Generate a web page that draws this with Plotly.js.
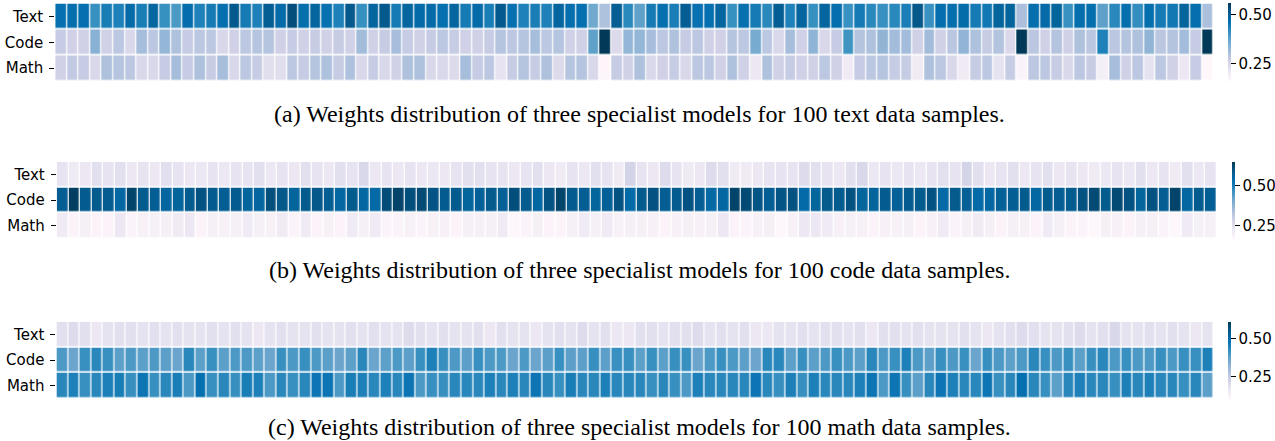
<!DOCTYPE html>
<html>
<head>
<meta charset="utf-8">
<script src="https://cdn.plot.ly/plotly-3.0.1.min.js"></script>
<style>html,body{margin:0;padding:0;background:#fff;}#chart{width:1275px;height:441px;}</style>
</head>
<body>
<div id="chart"></div>
<script>
const rowLabels = ["Text", "Code", "Math"];
const sampleIdx = Array.from({length: 100}, (_, i) => i);

const textA = [0.457,0.46,0.457,0.407,0.437,0.43,0.469,0.437,0.48,0.407,
0.39,0.463,0.43,0.44,0.457,0.507,0.44,0.43,0.497,0.469,
0.525,0.46,0.481,0.455,0.43,0.507,0.407,0.481,0.507,0.44,
0.481,0.469,0.469,0.457,0.481,0.44,0.469,0.437,0.507,0.457,
0.43,0.437,0.43,0.481,0.46,0.457,0.36,0.297,0.497,0.42,
0.373,0.44,0.457,0.437,0.497,0.455,0.457,0.481,0.407,0.457,
0.44,0.42,0.497,0.43,0.481,0.407,0.481,0.46,0.405,0.44,
0.42,0.405,0.42,0.435,0.51,0.405,0.46,0.46,0.465,0.44,
0.445,0.485,0.485,0.30,0.46,0.47,0.485,0.405,0.46,0.46,
0.375,0.42,0.46,0.41,0.46,0.44,0.445,0.485,0.46,0.30];
const codeA = [0.269,0.257,0.257,0.337,0.257,0.281,0.241,0.307,0.281,0.325,
0.297,0.269,0.281,0.281,0.241,0.257,0.281,0.289,0.289,0.257,
0.269,0.257,0.269,0.257,0.269,0.257,0.31,0.257,0.269,0.307,
0.269,0.257,0.269,0.281,0.269,0.257,0.257,0.269,0.289,0.281,
0.289,0.307,0.281,0.289,0.257,0.257,0.373,0.557,0.236,0.325,
0.325,0.307,0.281,0.297,0.269,0.281,0.257,0.257,0.289,0.281,
0.353,0.281,0.241,0.307,0.257,0.33,0.241,0.27,0.40,0.29,
0.298,0.327,0.309,0.309,0.257,0.309,0.257,0.282,0.327,0.298,
0.27,0.29,0.24,0.556,0.282,0.257,0.29,0.257,0.298,0.282,
0.43,0.282,0.29,0.298,0.327,0.282,0.29,0.309,0.27,0.556];
const mathA = [0.257,0.275,0.269,0.241,0.297,0.289,0.281,0.241,0.241,0.269,
0.307,0.269,0.297,0.269,0.307,0.241,0.281,0.269,0.226,0.226,
0.281,0.269,0.289,0.297,0.269,0.297,0.241,0.269,0.241,0.257,
0.297,0.297,0.241,0.241,0.236,0.307,0.269,0.281,0.215,0.269,
0.289,0.269,0.297,0.236,0.289,0.289,0.241,0.163,0.269,0.257,
0.297,0.241,0.257,0.269,0.241,0.281,0.281,0.257,0.297,0.257,
0.207,0.297,0.257,0.269,0.257,0.257,0.281,0.257,0.197,0.269,
0.281,0.289,0.269,0.269,0.197,0.297,0.281,0.241,0.197,0.269,
0.281,0.217,0.269,0.169,0.281,0.281,0.269,0.241,0.281,0.269,
0.185,0.307,0.257,0.281,0.217,0.281,0.257,0.207,0.269,0.157];

const textB = [0.24,0.217,0.229,0.25,0.24,0.25,0.229,0.24,0.229,0.25,
0.24,0.229,0.229,0.24,0.229,0.24,0.24,0.25,0.229,0.24,
0.229,0.25,0.24,0.229,0.25,0.24,0.27,0.229,0.24,0.229,
0.24,0.229,0.229,0.229,0.24,0.25,0.25,0.24,0.24,0.229,
0.24,0.25,0.229,0.217,0.24,0.229,0.25,0.24,0.217,0.28,
0.24,0.229,0.26,0.24,0.217,0.229,0.26,0.25,0.217,0.217,
0.229,0.24,0.24,0.24,0.26,0.25,0.24,0.229,0.25,0.27,
0.229,0.24,0.229,0.24,0.229,0.24,0.25,0.24,0.28,0.25,
0.229,0.24,0.25,0.229,0.24,0.25,0.229,0.24,0.229,0.217,
0.229,0.24,0.229,0.25,0.229,0.24,0.217,0.25,0.229,0.24];
const codeB = [0.575,0.635,0.585,0.585,0.58,0.55,0.625,0.585,0.575,0.555,
0.56,0.585,0.60,0.585,0.575,0.585,0.56,0.555,0.605,0.59,
0.56,0.585,0.59,0.575,0.55,0.585,0.55,0.545,0.61,0.625,
0.605,0.615,0.595,0.585,0.585,0.56,0.57,0.585,0.57,0.605,
0.585,0.55,0.60,0.625,0.585,0.575,0.56,0.57,0.60,0.54,
0.585,0.60,0.575,0.585,0.60,0.575,0.545,0.55,0.625,0.615,
0.595,0.575,0.595,0.60,0.54,0.56,0.585,0.585,0.60,0.56,
0.56,0.585,0.57,0.585,0.585,0.60,0.545,0.585,0.57,0.54,
0.55,0.57,0.575,0.585,0.55,0.585,0.575,0.585,0.60,0.615,
0.585,0.615,0.60,0.56,0.60,0.575,0.625,0.55,0.585,0.575];
const mathB = [0.217,0.183,0.20,0.183,0.183,0.229,0.183,0.193,0.20,0.20,
0.217,0.229,0.183,0.20,0.193,0.20,0.217,0.20,0.193,0.217,
0.183,0.217,0.183,0.193,0.183,0.217,0.20,0.217,0.183,0.183,
0.193,0.183,0.193,0.193,0.183,0.20,0.20,0.20,0.217,0.174,
0.183,0.20,0.183,0.183,0.20,0.217,0.20,0.217,0.193,0.20,
0.20,0.193,0.183,0.193,0.20,0.193,0.20,0.229,0.183,0.183,
0.193,0.20,0.174,0.193,0.229,0.229,0.217,0.193,0.20,0.193,
0.183,0.193,0.193,0.20,0.183,0.193,0.217,0.183,0.20,0.217,
0.20,0.183,0.20,0.193,0.183,0.217,0.20,0.183,0.183,0.174,
0.20,0.193,0.183,0.20,0.20,0.183,0.174,0.217,0.20,0.20];

const textC = [0.194,0.204,0.194,0.171,0.184,0.194,0.194,0.184,0.194,0.184,
0.194,0.184,0.184,0.194,0.184,0.194,0.184,0.171,0.184,0.194,
0.184,0.184,0.194,0.184,0.184,0.194,0.184,0.194,0.184,0.184,
0.204,0.194,0.184,0.194,0.184,0.184,0.194,0.171,0.194,0.184,
0.184,0.171,0.184,0.194,0.184,0.204,0.184,0.194,0.171,0.171,
0.194,0.194,0.184,0.194,0.194,0.204,0.184,0.194,0.184,0.194,
0.171,0.171,0.184,0.184,0.194,0.184,0.194,0.194,0.184,0.194,
0.171,0.194,0.194,0.184,0.194,0.184,0.184,0.184,0.194,0.184,
0.171,0.184,0.194,0.204,0.194,0.184,0.184,0.194,0.204,0.184,
0.194,0.214,0.184,0.184,0.194,0.184,0.194,0.184,0.171,0.184];
const codeC = [0.398,0.368,0.42,0.438,0.42,0.383,0.398,0.383,0.398,0.383,
0.368,0.438,0.383,0.42,0.383,0.398,0.398,0.383,0.368,0.42,
0.398,0.42,0.398,0.383,0.368,0.383,0.438,0.368,0.383,0.398,
0.383,0.42,0.453,0.42,0.398,0.383,0.42,0.398,0.398,0.368,
0.398,0.368,0.383,0.42,0.383,0.383,0.42,0.383,0.42,0.42,
0.383,0.42,0.383,0.42,0.42,0.368,0.398,0.42,0.398,0.383,
0.368,0.438,0.438,0.383,0.42,0.383,0.398,0.42,0.398,0.383,
0.438,0.398,0.42,0.453,0.398,0.383,0.42,0.398,0.42,0.368,
0.42,0.398,0.383,0.398,0.438,0.42,0.398,0.42,0.383,0.42,
0.438,0.398,0.42,0.398,0.398,0.42,0.398,0.42,0.42,0.453];
const mathC = [0.438,0.453,0.42,0.438,0.453,0.458,0.42,0.473,0.42,0.438,
0.458,0.398,0.483,0.42,0.438,0.42,0.458,0.453,0.398,0.438,
0.42,0.438,0.473,0.473,0.398,0.458,0.453,0.438,0.453,0.438,
0.473,0.398,0.42,0.42,0.438,0.438,0.438,0.453,0.438,0.453,
0.438,0.473,0.438,0.42,0.458,0.438,0.438,0.453,0.438,0.438,
0.438,0.42,0.438,0.42,0.398,0.453,0.438,0.438,0.438,0.438,
0.473,0.438,0.42,0.453,0.42,0.453,0.438,0.438,0.438,0.453,
0.473,0.398,0.473,0.42,0.383,0.438,0.473,0.453,0.438,0.438,
0.473,0.42,0.438,0.483,0.438,0.42,0.383,0.438,0.453,0.438,
0.438,0.42,0.453,0.438,0.453,0.438,0.438,0.42,0.438,0.383];

const captions = [
  "(a) Weights distribution of three specialist models for 100 text data samples.",
  "(b) Weights distribution of three specialist models for 100 code data samples.",
  "(c) Weights distribution of three specialist models for 100 math data samples."
];
const colorTicks = [0.25, 0.50];
const colorTickText = ["0.25", "0.50"];

const W = 1275, H = 441;
const PuBu = [[0,'#fff7fb'],[0.125,'#ece7f2'],[0.25,'#d0d1e6'],[0.375,'#a6bddb'],[0.5,'#74a9cf'],[0.625,'#3690c0'],[0.75,'#0570b0'],[0.875,'#045a8d'],[1,'#023858']];

const panels = [
  {z:[textA,codeA,mathA], top:3.5, bot:81, left:55.3, right:1214.5, zmin:0.157, zmax:0.557, cbx:1228, cap:114},
  {z:[textB,codeB,mathB], top:161.7, bot:238.3, left:56.8, right:1217.5, zmin:0.169, zmax:0.646, cbx:1232, cap:270},
  {z:[textC,codeC,mathC], top:321.7, bot:398.5, left:56.5, right:1214.5, zmin:0.109, zmax:0.608, cbx:1228, cap:427}
];

const traces = [];
const layout = {
  width: W, height: H,
  margin: {l:0, r:0, t:0, b:0},
  paper_bgcolor: '#fff', plot_bgcolor: '#fff',
  showlegend: false,
  font: {family: 'DejaVu Sans', size: 15, color: '#000'},
  annotations: []
};

panels.forEach((p, i) => {
  const sfx = i === 0 ? '' : String(i + 1);
  const yd = [1 - p.bot / H, 1 - p.top / H];
  traces.push({
    type: 'heatmap',
    z: p.z, x: sampleIdx, y: rowLabels,
    xaxis: 'x' + sfx, yaxis: 'y' + sfx,
    colorscale: PuBu, zmin: p.zmin, zmax: p.zmax,
    xgap: 1.2, ygap: 1.6,
    hoverinfo: 'skip',
    colorbar: {
      x: p.cbx / W, xanchor: 'left', xpad: 0, ypad: 0,
      y: yd[1], yanchor: 'top', len: yd[1] - yd[0], lenmode: 'fraction',
      thickness: 3, thicknessmode: 'pixels', outlinewidth: 0,
      ticks: 'outside', ticklen: 5, tickwidth: 1, tickcolor: '#000',
      tickvals: colorTicks, ticktext: colorTickText,
      tickfont: {family: 'DejaVu Sans', size: 15, color: '#000'}
    }
  });
  layout['xaxis' + sfx] = {
    domain: [p.left / W, p.right / W], anchor: 'y' + sfx,
    showticklabels: false, ticks: '', showgrid: false, zeroline: false, showline: false,
    range: [-0.5, 99.5]
  };
  layout['yaxis' + sfx] = {
    domain: yd, anchor: 'x' + sfx,
    autorange: 'reversed', type: 'category',
    ticks: 'outside', ticklen: 5, tickwidth: 1, tickcolor: '#000',
    ticklabelstandoff: 3,
    tickfont: {family: 'DejaVu Sans', size: 15, color: '#000'},
    showgrid: false, zeroline: false, showline: false
  };
  layout.annotations.push({
    text: captions[i], xref: 'paper', yref: 'paper',
    x: 640 / W, y: 1 - p.cap / H, xanchor: 'center', yanchor: 'middle',
    showarrow: false,
    font: {family: 'Liberation Serif', size: 24, color: '#000'}
  });
});

Plotly.newPlot('chart', traces, layout, {staticPlot: true, displayModeBar: false});
</script>
</body>
</html>
